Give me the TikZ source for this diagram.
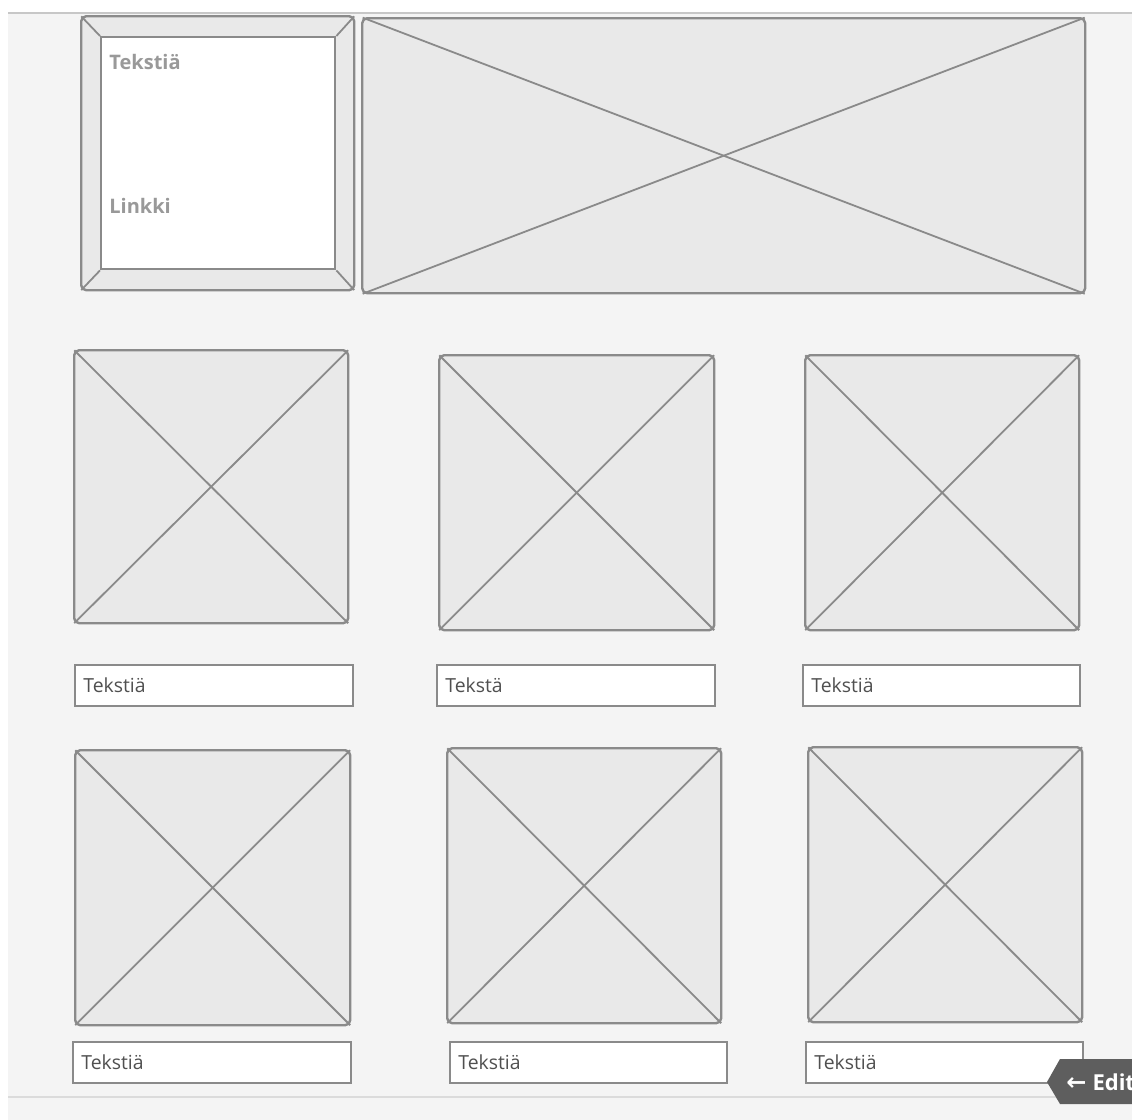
\documentclass[tikz,border=0pt]{standalone}
\usepackage{fontspec}
\setmainfont{Open Sans}
\newfontfamily\arrowfont{DejaVu Sans}
\usepackage{tikz}
\usetikzlibrary{positioning}
\definecolor{wfline}{HTML}{8A8A8A}
\definecolor{wffill}{HTML}{E9E9E9}
\definecolor{wfback}{HTML}{F4F4F4}
\definecolor{wftext}{HTML}{505050}
\definecolor{wfsoft}{HTML}{999999}
\definecolor{wftab}{HTML}{5E5E5E}
\tikzset{
  imgbox/.style={rectangle,draw=wfline,fill=wffill,line width=1.2pt,rounded corners=2.5pt,anchor=north west,inner sep=0pt},
  xline/.style={draw=wfline,line width=0.9pt,shorten <=0.9pt,shorten >=0.9pt},
  bevline/.style={draw=wfline,line width=0.9pt,shorten <=0.9pt},
  capbox/.style={rectangle,draw=wfline,fill=white,line width=1.1pt,anchor=north west,inner sep=0pt,minimum width=139pt,minimum height=20.5pt},
  captext/.style={anchor=west,font=\fontsize{9.7pt}{11pt}\selectfont,text=wftext,inner sep=0pt},
  softtext/.style={anchor=west,font=\fontsize{10pt}{12pt}\selectfont\bfseries,text=wfsoft,inner sep=0pt},
}

\begin{document}
\begin{tikzpicture}[x=0.5pt,y=-0.5pt]
  \useasboundingbox (0,0) rectangle (1132,1120);
  \fill[white] (0,0) rectangle (1132,1120);
  \fill[wfback] (8,13) rectangle (1132,1120);
  \draw[black!22,line width=0.8pt] (8,13) -- (1132,13);
  \draw[black!14,line width=0.6pt] (8,1097) -- (1132,1097);
  % top row
  \node[imgbox,minimum width=136.5pt,minimum height=137pt] (teaout) at (80,15) {};
  \node[rectangle,draw=wfline,fill=white,line width=1.2pt,anchor=north west,inner sep=0pt,minimum width=117pt,minimum height=116pt] (teain) at (100,36) {};
  \draw[bevline] (teaout.north west) -- (teain.north west);
  \draw[bevline] (teaout.north east) -- (teain.north east);
  \draw[bevline] (teaout.south west) -- (teain.south west);
  \draw[bevline] (teaout.south east) -- (teain.south east);
  \node[softtext] (teatxt) at (109,62) {Tekstiä};
  \node[softtext] (tealink) at (109,206) {Linkki};
  \node[imgbox,minimum width=361.5pt,minimum height=137.5pt] (hero) at (361,17) {};
  \draw[xline] (hero.north west) -- (hero.south east);
  \draw[xline] (hero.south west) -- (hero.north east);
  % first grid row
  \node[imgbox,minimum width=137pt,minimum height=136.5pt] (imgA) at (73,349) {};
  \node[imgbox,minimum width=137.5pt,minimum height=137.5pt] (imgB) at (438,354) {};
  \node[imgbox,minimum width=137pt,minimum height=137.5pt] (imgC) at (804,354) {};
  \draw[xline] (imgA.north west) -- (imgA.south east);
  \draw[xline] (imgA.south west) -- (imgA.north east);
  \draw[xline] (imgB.north west) -- (imgB.south east);
  \draw[xline] (imgB.south west) -- (imgB.north east);
  \draw[xline] (imgC.north west) -- (imgC.south east);
  \draw[xline] (imgC.south west) -- (imgC.north east);
  \node[capbox] (capA) at (74,664) {};
  \node[capbox] (capB) at (436,664) {};
  \node[capbox,minimum width=138.5pt] (capC) at (802,664) {};
  \node[captext] at ([xshift=4.5pt]capA.west) {Tekstiä};
  \node[captext] at ([xshift=4.5pt]capB.west) {Tekstä};
  \node[captext] at ([xshift=4.5pt]capC.west) {Tekstiä};
  % second grid row
  \node[imgbox,minimum width=137.5pt,minimum height=137.5pt] (imgD) at (74,749) {};
  \node[imgbox,minimum width=137pt,minimum height=137.5pt] (imgE) at (446,747) {};
  \node[imgbox,minimum width=137pt,minimum height=137.5pt] (imgF) at (807,746) {};
  \draw[xline] (imgD.north west) -- (imgD.south east);
  \draw[xline] (imgD.south west) -- (imgD.north east);
  \draw[xline] (imgE.north west) -- (imgE.south east);
  \draw[xline] (imgE.south west) -- (imgE.north east);
  \draw[xline] (imgF.north west) -- (imgF.south east);
  \draw[xline] (imgF.south west) -- (imgF.north east);
  \node[capbox] (capD) at (72,1041) {};
  \node[capbox,minimum width=138.5pt] (capE) at (449,1041) {};
  \node[capbox,minimum width=138.5pt] (capF) at (805,1041) {};
  \node[captext] at ([xshift=4.5pt]capD.west) {Tekstiä};
  \node[captext] at ([xshift=4.5pt]capE.west) {Tekstiä};
  \node[captext] at ([xshift=4.5pt]capF.west) {Tekstiä};
  % edit tab
  \fill[wftab] (1047,1082) -- (1060,1059) -- (1132,1059) -- (1132,1104) -- (1060,1104) -- cycle;
  \node[anchor=west,inner sep=0pt,text=white,font=\fontsize{11pt}{13pt}\selectfont\bfseries] (edit) at (1066,1082) {{\arrowfont\bfseries\fontsize{12pt}{13pt}\selectfont ←}\hspace{3pt}Edit};
\end{tikzpicture}
\end{document}
